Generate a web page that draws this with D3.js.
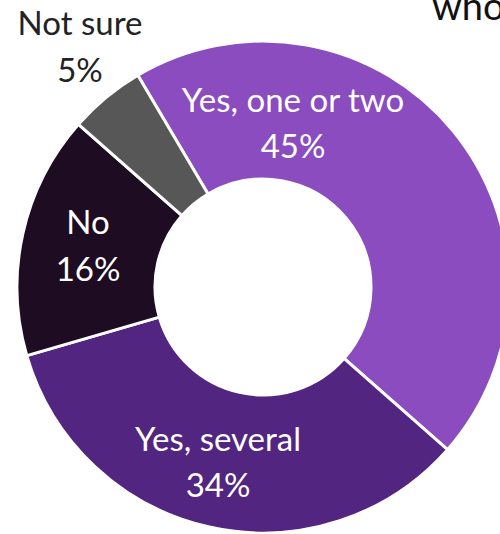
<!DOCTYPE html>
<html>
<head>
<meta charset="utf-8">
<script src="https://cdn.jsdelivr.net/npm/d3@7"></script>
<style>
  html, body { margin: 0; padding: 0; background: #fff; overflow: hidden; }
  svg { display: block; }
</style>
</head>
<body>
<svg id="chart" width="500" height="534"></svg>
<script>
// Answer categories and their shares (%)
const categories = ["Yes, one or two", "Yes, several", "No", "Not sure"];
const shares = [45, 34, 16, 5];
const colors = ["#8A4CBE", "#522580", "#1D0C22", "#575757"];
const labelColors = ["#ffffff", "#ffffff", "#ffffff", "#222222"];

const W = 500, H = 534;
const cx = 263, cy = 287;
const outerR = 246, innerR = 108;
const font = "Lato, 'Open Sans', sans-serif";

const svg = d3.select("#chart");

// Title fragment at the top right (runs past the right edge)
svg.append("text")
  .attr("x", 432).attr("y", 20)
  .attr("font-family", font)
  .attr("font-size", 38)
  .attr("fill", "#111")
  .text("who");

const startA = -30.6 * Math.PI / 180;
const pie = d3.pie().sort(null).value(d => d.v)
  .startAngle(startA).endAngle(startA + 2 * Math.PI);
const data = categories.map((c, i) => ({ c, v: shares[i], i }));
const arcs = pie(data);

const arc = d3.arc().innerRadius(innerR).outerRadius(outerR);

const g = svg.append("g").attr("transform", `translate(${cx},${cy})`);
g.selectAll("path.slice")
  .data(arcs)
  .join("path")
  .attr("class", "slice")
  .attr("d", arc)
  .attr("fill", d => colors[d.data.i])
  .attr("stroke", "#fff")
  .attr("stroke-width", 3)
  .attr("stroke-linejoin", "round");

// Two-line label (name, share) for each slice
const labelPos = [
  { x: 293, y: 112, y2: 158 },
  { x: 218, y: 451, y2: 497 },
  { x: 88,  y: 234, y2: 281 },
  { x: 80,  y: 35,  y2: 82 }
];
const labels = svg.append("g");
arcs.forEach(d => {
  const p = labelPos[d.data.i];
  const t = labels.append("text")
    .attr("text-anchor", "middle")
    .attr("font-family", font)
    .attr("font-size", 33)
    .attr("fill", labelColors[d.data.i]);
  t.append("tspan").attr("x", p.x).attr("y", p.y).text(d.data.c);
  t.append("tspan").attr("x", p.x).attr("y", p.y2).text(d.data.v + "%");
});
</script>
</body>
</html>
